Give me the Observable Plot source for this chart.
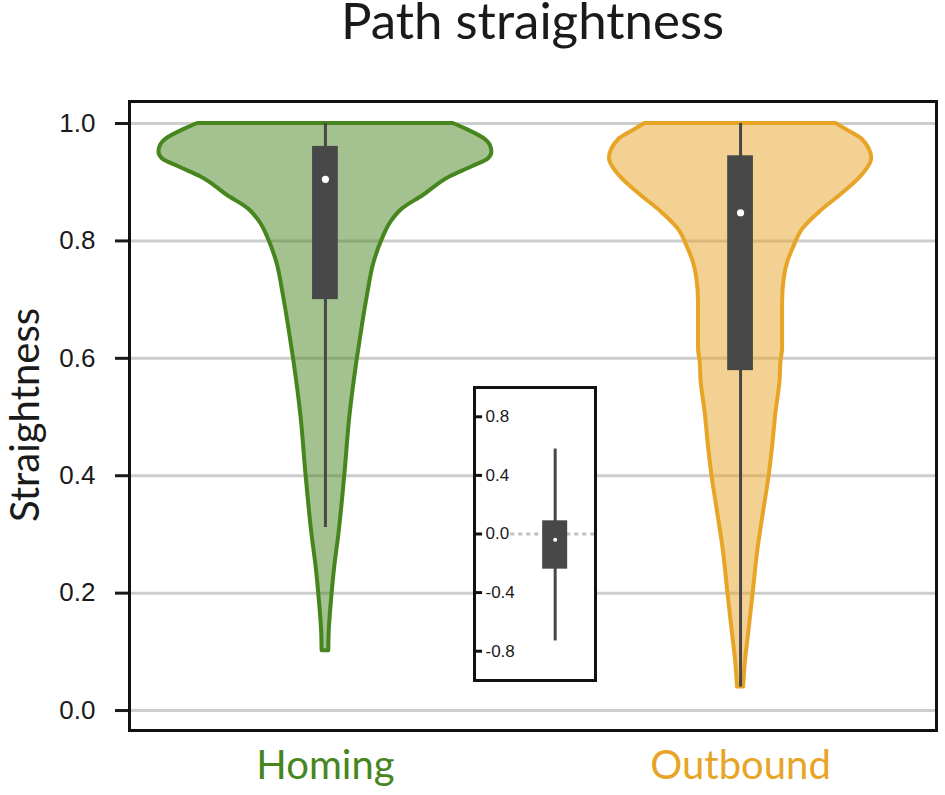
<!DOCTYPE html>
<html><head><meta charset="utf-8">
<script src="https://cdn.jsdelivr.net/npm/d3@7"></script>
<script src="https://cdn.jsdelivr.net/npm/@observablehq/plot@0.6"></script>
<style>
body{margin:0;background:#fff;}
#wrap{position:relative;width:945px;height:795px;overflow:hidden;background:#fff;}
#main{position:absolute;left:0;top:0;}
#title{position:absolute;left:129px;width:807px;top:0;text-align:center;font-family:Lato;font-size:51px;line-height:40px;color:#1a1a1a;white-space:nowrap;}
#ytitle{position:absolute;left:-126px;top:391px;width:300px;height:48px;line-height:48px;text-align:center;font-family:Lato;font-size:40px;color:#1a1a1a;transform:rotate(-90deg);white-space:nowrap;}
#inset{position:absolute;left:472px;top:385px;}
</style></head><body>
<div id="wrap"><div id="main"></div><div id="title">Path straightness</div><div id="ytitle">Straightness</div><div id="inset"></div></div>
<script>
// ---- data ----
const categories = ["Homing", "Outbound"];
const lineColors = ["#47861f", "#e8a427"];

const homingY = [1.0, 0.99, 0.975, 0.963, 0.951, 0.94, 0.926, 0.909, 0.877, 0.855, 0.832, 0.804, 0.764, 0.707, 0.656, 0.60, 0.50, 0.40, 0.30, 0.244, 0.20, 0.131, 0.102];
const homingDensity = [0.76, 0.84, 0.94, 0.98, 0.99, 0.97, 0.87, 0.74, 0.58, 0.46, 0.39, 0.34, 0.29, 0.25, 0.22, 0.19, 0.145, 0.115, 0.08, 0.055, 0.04, 0.022, 0.02];

const outboundY = [1.0, 0.991, 0.974, 0.94, 0.911, 0.877, 0.849, 0.82, 0.792, 0.763, 0.736, 0.695, 0.65, 0.617, 0.593, 0.562, 0.506, 0.448, 0.40, 0.335, 0.278, 0.20, 0.136, 0.08, 0.04];
const outboundDensity = [0.57, 0.62, 0.72, 0.78, 0.72, 0.59, 0.47, 0.37, 0.32, 0.28, 0.26, 0.25, 0.25, 0.25, 0.24, 0.235, 0.21, 0.19, 0.17, 0.135, 0.105, 0.075, 0.05, 0.028, 0.018];

const boxQ1 = [0.700, 0.579];
const boxQ3 = [0.961, 0.945];
const medians = [0.905, 0.848];
const whiskerLow = [0.312, 0.04];
const whiskerHigh = [1.0, 1.0];

const yTicks = [0, 0.2, 0.4, 0.6, 0.8, 1.0];

// inset box plot
const insetTicks = [0.8, 0.4, 0.0, -0.4, -0.8];
const insetQ1 = [-0.24];
const insetQ3 = [0.09];
const insetMedian = [-0.04];
const insetWhiskerLow = [-0.73];
const insetWhiskerHigh = [0.58];

// ---- build ----
const halfWidth = 0.405;   // violin max half-width in x units
const boxHalf = 0.031;
const violinY = [homingY, outboundY];
const violinD = [homingDensity, outboundDensity];
const violinRows = categories.map((c, i) => violinY[i].map((y, j) => ({cat: c, xc: i, y, d: violinD[i][j]})));
const boxRows = categories.map((c, i) => ({cat: c, xc: i, q1: boxQ1[i], q3: boxQ3[i], med: medians[i], lo: whiskerLow[i], hi: whiskerHigh[i]}));

const marks = [
  Plot.ruleY(yTicks, {stroke: "#cdcdcd", strokeWidth: 3}),
];
categories.forEach((c, i) => {
  marks.push(Plot.areaX(violinRows[i], {
    y: "y", x1: d => d.xc - d.d * halfWidth, x2: d => d.xc + d.d * halfWidth,
    fill: lineColors[i], fillOpacity: 0.5, stroke: lineColors[i], strokeWidth: 4,
    strokeLinejoin: "round", curve: "monotone-y"
  }));
});
marks.push(
  Plot.ruleX(boxRows, {x: "xc", y1: "lo", y2: "hi", stroke: "#474747", strokeWidth: 3}),
  Plot.rect(boxRows, {x1: d => d.xc - boxHalf, x2: d => d.xc + boxHalf, y1: "q1", y2: "q3", fill: "#484848"}),
  Plot.dot(boxRows, {x: "xc", y: "med", r: 3.6, fill: "white", stroke: null}),
  Plot.axisY(yTicks, {tickSize: 14, tickPadding: 20, tickFormat: d => d.toFixed(1), fontSize: 26, fontFamily: "Liberation Sans", color: "#1a1a1a", strokeWidth: 3, label: null}),
  Plot.frame({stroke: "#111", strokeWidth: 3})
);
categories.forEach((c, i) => {
  marks.push(Plot.text([c], {x: [i], frameAnchor: "bottom", lineAnchor: "top", dy: 20, fontSize: 40, fontFamily: "Lato", fill: lineColors[i]}));
});

const main = Plot.plot({
  width: 945, height: 795,
  marginLeft: 129, marginRight: 9, marginTop: 101, marginBottom: 65,
  x: {domain: [-0.472, 1.472], axis: null},
  y: {domain: [-0.034, 1.0375], axis: null},
  style: {background: "white"},
  marks
});
document.getElementById("main").appendChild(main);

const insetRows = insetQ1.map((q1, i) => ({xc: 0, q1, q3: insetQ3[i], med: insetMedian[i], lo: insetWhiskerLow[i], hi: insetWhiskerHigh[i]}));
const insetBoxHalf = 0.31;
const inset = Plot.plot({
  width: 125, height: 297,
  marginLeft: 2, marginRight: 2, marginTop: 2, marginBottom: 2,
  x: {domain: [-2, 1], axis: null},
  y: {domain: [-1, 1], axis: null},
  style: {background: "transparent", overflow: "visible"},
  marks: [
    Plot.frame({fill: "white"}),
    Plot.ruleY([0], {x1: -1.1, x2: 1, stroke: "#bdbdbd", strokeWidth: 3, strokeDasharray: "4,4"}),
    Plot.ruleX(insetRows, {x: "xc", y1: "lo", y2: "hi", stroke: "#474747", strokeWidth: 3}),
    Plot.rect(insetRows, {x1: d => d.xc - insetBoxHalf, x2: d => d.xc + insetBoxHalf, y1: "q1", y2: "q3", fill: "#484848"}),
    Plot.dot(insetRows, {x: "xc", y: "med", r: 2, fill: "white", stroke: null}),
    Plot.ruleY(insetTicks, {x1: -2, x2: -1.8, stroke: "#111", strokeWidth: 3}),
    Plot.text(insetTicks, {y: d => d, text: d => d.toFixed(1), frameAnchor: "left", textAnchor: "start", dx: 11, fontSize: 17, fontFamily: "Liberation Sans", fill: "#1a1a1a"}),
    Plot.frame({stroke: "#111", strokeWidth: 3})
  ]
});
document.getElementById("inset").appendChild(inset);
</script>
</body></html>
